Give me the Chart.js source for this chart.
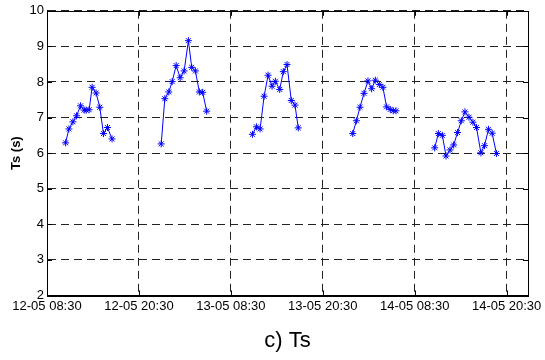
<!DOCTYPE html>
<html>
<head>
<meta charset="utf-8">
<script src="https://cdn.jsdelivr.net/npm/chart.js@4.4.1/dist/chart.umd.min.js"></script>
<style>
  html, body { margin: 0; padding: 0; background: #fff; }
  #wrap { width: 545px; height: 360px; }
</style>
</head>
<body>
<div id="wrap"><canvas id="c" width="545" height="360"></canvas></div>
<script>
// Hours elapsed since 12-05 08:30; null breaks the line between daily runs
const hours = [
  2.43, 2.86, 3.38, 3.86, 4.38, 4.85, 5.11, 5.50, 5.89, 6.41, 6.89, 7.37, 7.89, 8.49, null,
  14.91, 15.38, 15.90, 16.34, 16.86, 17.38, 17.90, 18.46, 18.89, 19.37, 19.89, 20.32, 20.84, null,
  26.82, 27.34, 27.82, 28.34, 28.86, 29.38, 29.81, 30.38, 30.85, 31.33, 31.89, 32.37, 32.80, null,
  39.91, 40.39, 40.86, 41.38, 41.90, 42.38, 42.86, 43.38, 43.85, 44.33, 44.81, 45.20, 45.55, null,
  50.61, 51.09, 51.61, 52.09, 52.61, 53.08, 53.60, 54.08, 54.56, 55.08, 55.60, 56.07, 56.64, 57.11, 57.63, 58.11, 58.67
];
// Significant period Ts (s)
const ts = [
  6.29, 6.68, 6.88, 7.05, 7.33, 7.21, 7.21, 7.22, 7.85, 7.69, 7.29, 6.55, 6.72, 6.40, null,
  6.26, 7.53, 7.72, 8.01, 8.46, 8.12, 8.31, 9.16, 8.41, 8.31, 7.72, 7.71, 7.18, null,
  6.53, 6.74, 6.68, 7.60, 8.19, 7.88, 8.02, 7.79, 8.29, 8.49, 7.48, 7.35, 6.71, null,
  6.55, 6.91, 7.29, 7.68, 8.03, 7.81, 8.05, 7.93, 7.85, 7.30, 7.23, 7.19, 7.19, null,
  6.15, 6.55, 6.50, 5.92, 6.09, 6.23, 6.58, 6.91, 7.16, 7.01, 6.87, 6.72, 6.01, 6.21, 6.67, 6.56, 5.99
];
const tickHours = [0, 12, 24, 36, 48, 60];
const tickLabels = ['12-05 08:30', '12-05 20:30', '13-05 08:30', '13-05 20:30', '14-05 08:30', '14-05 20:30'];
const yTicks = [2, 3, 4, 5, 6, 7, 8, 9, 10];

const points = hours.map((h, i) => ({ x: h, y: ts[i] }));

// Solid frame round the plot plus short inward tick marks on all four sides
const framePlugin = {
  id: 'frame',
  afterDraw(chart) {
    const { ctx, chartArea: a, scales } = chart;
    ctx.save();
    ctx.strokeStyle = '#000';
    ctx.lineWidth = 1;
    ctx.setLineDash([]);
    ctx.strokeRect(Math.round(a.left) + 0.5, Math.round(a.top) + 0.5,
                   Math.round(a.right - a.left), Math.round(a.bottom - a.top));
    const len = 5;
    ctx.beginPath();
    yTicks.forEach(v => {
      const y = Math.round(scales.y.getPixelForValue(v)) + 0.5;
      ctx.moveTo(a.left, y); ctx.lineTo(a.left + len, y);
      ctx.moveTo(a.right, y); ctx.lineTo(a.right - len, y);
    });
    tickHours.forEach(v => {
      const x = Math.round(scales.x.getPixelForValue(v)) + 0.5;
      ctx.moveTo(x, a.bottom); ctx.lineTo(x, a.bottom - len);
      ctx.moveTo(x, a.top); ctx.lineTo(x, a.top + len);
    });
    ctx.stroke();
    ctx.restore();
  }
};

const gridStyle = {
  color: '#222',
  lineWidth: 1,
  drawTicks: false
};

new Chart(document.getElementById('c'), {
  type: 'line',
  data: {
    datasets: [{
      data: points,
      borderColor: '#0000ff',
      backgroundColor: '#0000ff',
      borderWidth: 1,
      pointStyle: 'star',
      pointRadius: 3.5,
      pointBorderWidth: 1,
      pointBorderColor: '#0000ff',
      spanGaps: false,
      tension: 0
    }]
  },
  options: {
    responsive: false,
    animation: false,
    devicePixelRatio: 1,
    layout: { padding: { left: 0, right: 15, top: 10.7, bottom: 0 } },
    plugins: {
      legend: { display: false },
      tooltip: { enabled: false }
    },
    scales: {
      x: {
        type: 'linear',
        min: 0,
        max: 62.8,
        afterBuildTicks(scale) {
          scale.ticks = tickHours.map(v => ({ value: v }));
        },
        afterFit(scale) { scale.height = 64.5; },
        ticks: {
          autoSkip: false,
          maxRotation: 0,
          padding: 3,
          color: '#000',
          font: { family: 'Liberation Sans, Arial, sans-serif', size: 13 },
          callback(value) {
            const i = tickHours.indexOf(value);
            return i >= 0 ? tickLabels[i] : '';
          }
        },
        grid: Object.assign({}, gridStyle),
        border: { display: true, color: '#000', dash: [8, 5] },
        title: {
          display: true,
          text: 'c) Ts',
          color: '#000',
          font: { family: 'Liberation Sans, Arial, sans-serif', size: 22 },
          padding: { top: 0, bottom: 6 }
        }
      },
      y: {
        min: 2,
        max: 10,
        afterBuildTicks(scale) {
          scale.ticks = yTicks.map(v => ({ value: v }));
        },
        afterFit(scale) { scale.width = 47; },
        ticks: {
          padding: 3,
          color: '#000',
          font: { family: 'Liberation Sans, Arial, sans-serif', size: 13 }
        },
        grid: Object.assign({}, gridStyle),
        border: { display: true, color: '#000', dash: [8, 5] },
        title: {
          display: true,
          text: 'Ts (s)',
          color: '#000',
          font: { family: 'Liberation Sans, Arial, sans-serif', size: 13, weight: 'bold' },
          padding: { top: 9, bottom: 0 }
        }
      }
    }
  },
  plugins: [framePlugin]
});
</script>
</body>
</html>
